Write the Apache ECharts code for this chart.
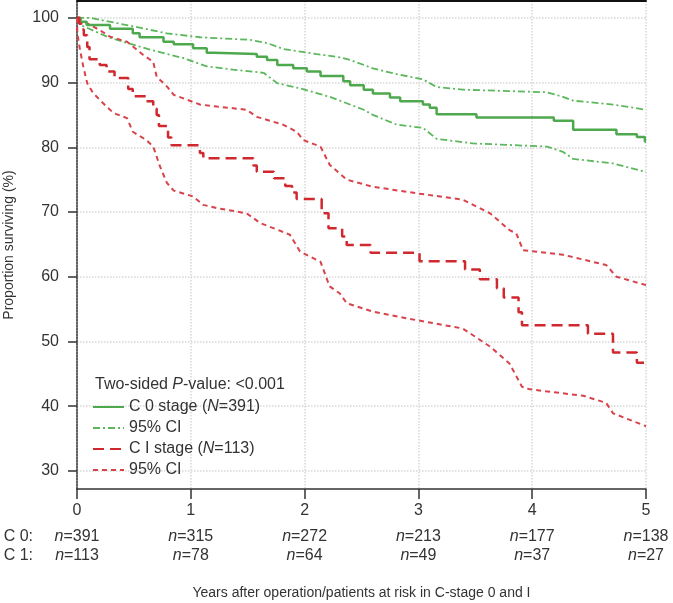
<!DOCTYPE html>
<html>
<head>
<meta charset="utf-8">
<script src="https://cdn.jsdelivr.net/npm/echarts@6/dist/echarts.min.js"></script>
<style>
  html, body { margin: 0; padding: 0; background: #fff; }
  #main { width: 673px; height: 603px; }
</style>
</head>
<body>
<div id="main"></div>
<script>
// tick labels / risk table
var yearTicks = [0, 1, 2, 3, 4, 5];
var yTicks = [30, 40, 50, 60, 70, 80, 90, 100];
var c0AtRisk = [391, 315, 272, 213, 177, 138];
var c1AtRisk = [113, 78, 64, 49, 37, 27];

// C 0 stage, Kaplan-Meier estimate [year, %]
var c0Surv = [[0,100],[0.03,99.4],[0.085,98.9],[0.29,98.3],[0.49,97.6],[0.55,97.0],[0.76,96.3],[0.85,95.9],
  [1.02,95.3],[1.14,94.6],[1.20,94.4],[1.58,94.0],[1.67,93.5],[1.76,92.7],[1.90,92.2],[2.02,91.7],[2.14,91.0],
  [2.34,90.2],[2.40,89.6],[2.52,88.9],[2.60,88.3],[2.75,87.7],[2.84,87.1],[3.04,86.6],[3.10,86.1],[3.16,85.1],
  [3.51,84.6],[4.19,84.1],[4.36,82.7],[4.74,82.0],[4.92,81.6],[4.99,80.9],[5.0,80.9]];
var c0Upper = [[0,100],[0.12,100],[0.20,99.7],[0.49,98.7],[0.79,97.6],[1.08,97.0],[1.52,96.6],[1.67,96.1],
  [1.81,95.2],[2.11,94.4],[2.31,93.9],[2.40,93.5],[2.60,92.2],[2.81,91.3],[3.04,90.5],[3.16,89.3],[3.39,88.9],
  [4.13,88.5],[4.27,87.8],[4.36,87.2],[4.71,86.6],[5.0,85.8]];
var c0Lower = [[0,100],[0.03,98.9],[0.29,96.9],[0.64,95.1],[0.93,93.8],[1.14,92.5],[1.37,92.0],[1.64,91.5],
  [1.76,89.9],[1.96,89.1],[2.22,87.8],[2.52,85.8],[2.60,85.0],[2.81,83.5],[3.04,83.0],[3.16,81.3],[3.48,80.6],
  [4.13,80.1],[4.27,79.3],[4.36,78.2],[4.71,77.5],[5.0,76.2]];

// C I stage
var c1Surv = [[0,100],[0.02,99.1],[0.04,98.2],[0.06,97.3],[0.09,95.5],[0.11,93.6],[0.20,92.7],[0.26,91.7],
  [0.33,90.7],[0.45,89.0],[0.49,87.9],[0.61,87.1],[0.67,86.0],[0.70,85.0],[0.72,83.3],[0.80,81.5],[0.83,80.3],
  [1.08,79.1],[1.11,78.3],[1.55,77.2],[1.58,76.2],[1.73,75.2],[1.83,74.0],[1.89,73.0],[1.93,72.0],[2.15,69.8],
  [2.21,67.5],[2.33,66.2],[2.37,64.9],[2.58,63.7],[3.01,62.4],[3.41,61.1],[3.54,59.6],[3.69,58.2],[3.75,56.8],
  [3.88,54.5],[3.91,52.5],[4.49,51.2],[4.71,48.3],[4.92,46.7],[5.0,46.7]];
var c1Upper = [[0,100],[0.085,99.2],[0.20,98.1],[0.29,97.1],[0.44,96.3],[0.58,94.3],[0.67,93.2],[0.70,90.9],
  [0.79,89.4],[0.85,88.1],[1.08,86.6],[1.23,86.3],[1.49,85.8],[1.58,84.7],[1.81,83.5],[1.93,82.4],[1.99,81.1],
  [2.14,80.1],[2.22,77.3],[2.37,75.0],[2.60,73.9],[2.98,72.9],[3.39,71.9],[3.63,69.8],[3.80,67.2],[3.86,66.7],
  [3.92,64.1],[4.27,63.4],[4.65,61.8],[4.74,60.0],[5.0,58.7]];
var c1Lower = [[0,100],[0.003,97.6],[0.026,95.1],[0.055,92.5],[0.09,89.9],[0.14,88.4],[0.23,86.8],[0.32,85.3],
  [0.44,84.5],[0.49,82.4],[0.61,81.1],[0.67,80.1],[0.73,77.0],[0.79,74.5],[0.85,73.3],[1.02,72.4],[1.11,71.1],
  [1.23,70.6],[1.49,69.8],[1.61,68.3],[1.87,66.5],[1.96,63.9],[2.14,62.3],[2.22,58.5],[2.31,57.4],[2.37,55.9],
  [2.60,54.6],[2.98,53.3],[3.39,52.0],[3.63,49.2],[3.80,46.6],[3.88,44.0],[3.91,43.0],[3.98,42.6],[4.45,41.6],
  [4.65,40.5],[4.71,38.9],[5.0,36.9]];

var legendText = {
  c0: 'C 0 stage ({i|N}=391)',
  c0ci: '95% CI',
  c1: 'C I stage ({i|N}=113)',
  c1ci: '95% CI'
};

var green = '#4ea84e', greenCI = '#5cb85c', red = '#d0282f', redCI = '#d8434b';
var txt = '#333';
var font = 'Liberation Sans, Arial, Helvetica, sans-serif';

var myChart = echarts.init(document.getElementById('main'));

function riskAxis(name, counts, offset) {
  return {
    type: 'value', min: 0, max: 5, interval: 1, position: 'bottom', offset: offset,
    name: name, nameLocation: 'start', nameGap: 44,
    nameTextStyle: { fontSize: 16, color: txt },
    axisLine: { show: false }, axisTick: { show: false }, splitLine: { show: false },
    axisLabel: {
      margin: 0, verticalAlign: 'middle', fontSize: 16, color: txt,
      formatter: function (v) { return '{i|n}=' + counts[yearTicks.indexOf(v)]; },
      rich: { i: { fontStyle: 'italic', fontSize: 16, color: txt } }
    }
  };
}

function line(name, data, color, type, width, step) {
  return {
    name: name, type: 'line', data: data, step: step ? 'end' : false,
    symbol: 'none', smooth: false,
    lineStyle: { color: color, type: type, width: width },
    itemStyle: { color: color },
    z: step ? 3 : 2
  };
}

myChart.setOption({
  animation: false,
  textStyle: { fontFamily: font },
  title: {
    text: 'Two-sided {i|P}-value: <0.001',
    left: 95, top: 377, padding: 0,
    textStyle: {
      fontSize: 16, fontWeight: 'normal', color: txt,
      rich: { i: { fontStyle: 'italic', fontSize: 16, color: txt } }
    }
  },
  legend: {
    orient: 'vertical', left: 92, top: 399, padding: 0,
    itemWidth: 31, itemHeight: 14, itemGap: 5,
    selectedMode: false,
    itemStyle: { opacity: 0, borderWidth: 0 },
    data: ['c0', 'c0ci', 'c1', 'c1ci'],
    formatter: function (n) { return legendText[n]; },
    textStyle: {
      fontSize: 16, color: txt, lineHeight: 16,
      rich: { i: { fontStyle: 'italic', fontSize: 16, color: txt } }
    }
  },
  grid: { left: 77, right: 27, top: 1, bottom: 114, outerBoundsMode: 'none' },
  xAxis: [
    {
      type: 'value', min: 0, max: 5, interval: 1,
      name: 'Years after operation/patients at risk in C-stage 0 and I',
      nameLocation: 'middle', nameGap: 97,
      nameTextStyle: { fontSize: 14, color: txt },
      axisLine: { lineStyle: { color: '#333', width: 1.5 } },
      axisTick: { length: 10, lineStyle: { color: '#333', width: 1.5 } },
      axisLabel: { fontSize: 16, color: txt, margin: 14 },
      splitLine: { show: true, lineStyle: { color: '#d8d8d8', type: 'dotted', width: 1.5 } }
    },
    {
      type: 'value', min: 0, max: 5, position: 'top',
      axisLine: { lineStyle: { color: '#111', width: 2 } },
      axisTick: { show: false }, axisLabel: { show: false }, splitLine: { show: false }
    },
    riskAxis('C 0:', c0AtRisk, 48),
    riskAxis('C 1:', c1AtRisk, 67)
  ],
  yAxis: [
    {
      type: 'value', min: 27.2, max: 102.6,
      name: 'Proportion surviving (%)', nameLocation: 'middle', nameGap: 61,
      nameTextStyle: { fontSize: 14, color: txt },
      axisLine: { show: true, lineStyle: { color: '#555', type: 'dotted', width: 1.5 } },
      axisTick: { show: true, length: 9, customValues: yTicks, lineStyle: { color: '#333', width: 1.5 } },
      axisLabel: { fontSize: 16, color: txt, margin: 18, customValues: yTicks },
      splitLine: { show: true, lineStyle: { color: '#d8d8d8', type: 'dotted', width: 1.5 } }
    },
    {
      type: 'value', min: 27.2, max: 102.6, position: 'right',
      axisLine: { show: true, lineStyle: { color: '#555', type: 'dotted', width: 1.5 } },
      axisTick: { show: false }, axisLabel: { show: false }, splitLine: { show: false }
    }
  ],
  series: [
    line('c0ci', c0Upper, greenCI, [7, 3, 2, 3], 1.8, false),
    line('c0ci', c0Lower, greenCI, [7, 3, 2, 3], 1.8, false),
    line('c1ci', c1Upper, redCI, [5, 4], 2, false),
    line('c1ci', c1Lower, redCI, [5, 4], 2, false),
    line('c0', c0Surv, green, 'solid', 2.5, true),
    line('c1', c1Surv, red, [11, 6], 2.5, true)
  ]
});
</script>
</body>
</html>
